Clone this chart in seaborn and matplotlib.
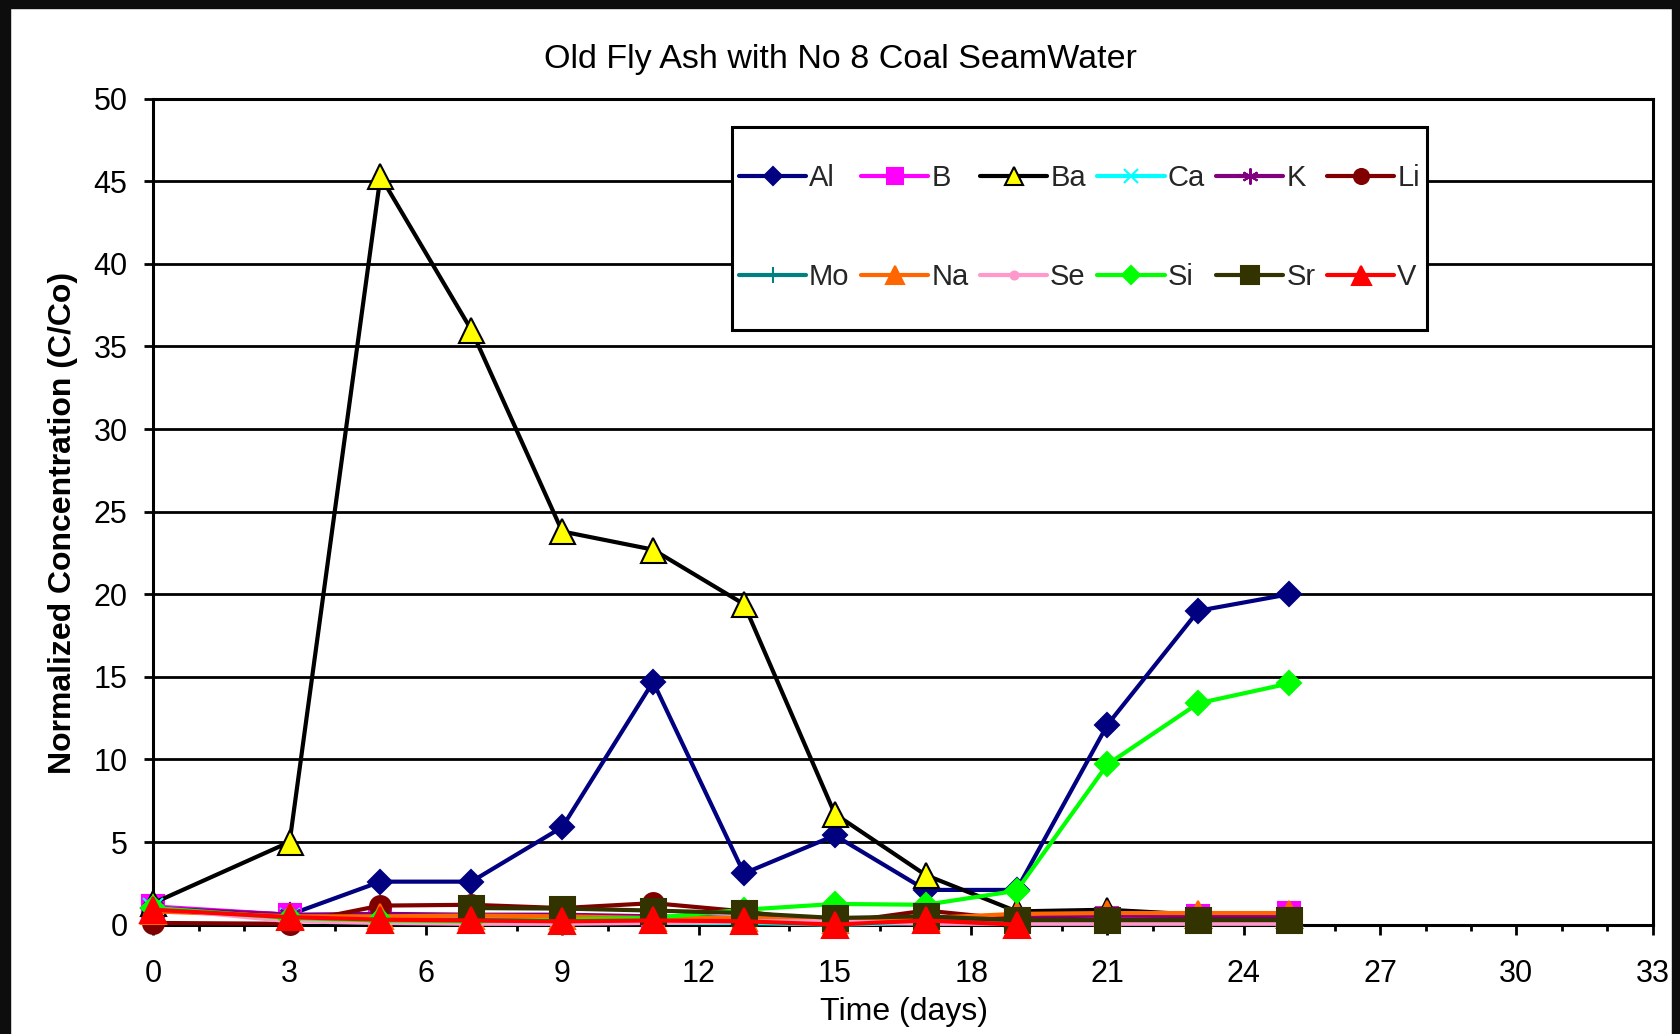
import numpy as np
import pandas as pd
import matplotlib
matplotlib.use("Agg")
import matplotlib.pyplot as plt
from matplotlib.ticker import MultipleLocator
from matplotlib.patches import Rectangle
import seaborn as sns

# ---------------- data ----------------
days = [0, 3, 5, 7, 9, 11, 13, 15, 17, 19, 21, 23, 25]
nan = np.nan
Al = [1.0, 0.6, 2.6, 2.6, 5.9, 14.7, 3.1, 5.4, 2.1, 2.1, 12.1, 19.0, 20.0]
B  = [1.1, 0.6, 0.3, 0.3, 0.2, 0.2, 0.2, 0.0, 0.2, 0.3, 0.4, 0.55, 0.7]
Ba = [1.3, 5.0, 45.3, 36.0, 23.8, 22.7, 19.4, 6.7, 3.0, 0.8, 0.9, 0.6, 0.6]
Ca = [1.0, 0.4, 0.2, 0.2, 0.1, 0.1, 0.1, 0.0, 0.1, 0.1, 0.1, 0.1, 0.1]
K  = [1.0, 0.6, 0.65, 0.6, 0.6, 0.5, 0.4, 0.3, 0.4, 0.4, 0.6, 0.5, 0.5]
Li = [0.1, 0.05, 1.15, 1.2, 1.0, 1.3, 0.8, 0.1, 0.85, 0.3, 0.3, 0.3, 0.3]
Mo = [1.0, 0.4, 0.3, 0.3, 0.3, 0.3, 0.3, 0.2, 0.2, 0.2, 0.2, 0.2, 0.2]
Na = [0.8, 0.5, 0.5, 0.55, 0.5, 0.4, 0.4, 0.3, 0.4, 0.65, 0.7, 0.7, 0.7]
Se = [1.0, 0.2, 0.1, 0.05, 0.05, 0.1, 0.2, 0.2, 0.05, 0.05, 0.05, 0.05, 0.05]
Si = [1.0, 0.4, 0.25, 0.2, 0.3, 0.4, 0.9, 1.25, 1.2, 2.05, 9.7, 13.4, 14.6]
Sr = [nan, nan, nan, 1.0, 0.97, 0.85, 0.7, 0.4, 0.5, 0.27, 0.27, 0.27, 0.27]
V  = [0.9, 0.45, 0.3, 0.25, 0.2, 0.25, 0.2, 0.0, 0.25, 0.0, nan, nan, nan]

elements = ["Al", "B", "Ba", "Ca", "K", "Li", "Mo", "Na", "Se", "Si", "Sr", "V"]
values = [Al, B, Ba, Ca, K, Li, Mo, Na, Se, Si, Sr, V]

x_ticks = list(range(0, 34, 3))
y_ticks = list(range(0, 51, 5))
title = "Old Fly Ash with No 8 Coal SeamWater"
xlabel = "Time (days)"
ylabel = "Normalized Concentration (C/Co)"

# ---------------- styles ----------------
styles = {
    "Al": dict(color="#000080", marker="D", ms=12.5, mfc="#000080", mec="#000080"),
    "B":  dict(color="#FF00FF", marker="s", ms=16, mfc="#FF00FF", mec="#FF00FF"),
    "Ba": dict(color="#000000", marker="^", ms=18, mfc="#FFFF00", mec="#000000"),
    "Ca": dict(color="#00FFFF", marker="x", ms=14, mfc="#00FFFF", mec="#00FFFF"),
    "K":  dict(color="#800080", marker=(6, 2, 0), ms=16, mfc="#800080", mec="#800080"),
    "Li": dict(color="#800000", marker="o", ms=15, mfc="#800000", mec="#800000"),
    "Mo": dict(color="#008080", marker="+", ms=16, mfc="#008080", mec="#008080"),
    "Na": dict(color="#FF6600", marker="^", ms=18, mfc="#FF6600", mec="#FF6600"),
    "Se": dict(color="#FF99CC", marker="o", ms=8, mfc="#FF99CC", mec="#FF99CC"),
    "Si": dict(color="#00FF00", marker="D", ms=12.5, mfc="#00FF00", mec="#00FF00"),
    "Sr": dict(color="#333300", marker="s", ms=18, mfc="#333300", mec="#333300"),
    "V":  dict(color="#FF0000", marker="^", ms=19, mfc="#FF0000", mec="#FF0000"),
}

sns.set_theme(style="white")
plt.rcParams["font.family"] = ["Liberation Sans", "DejaVu Sans"]

W, H = 1681, 1034
fig = plt.figure(figsize=(W / 100, H / 100), dpi=100)
fig.patch.set_facecolor("white")

ax_l, ax_r, ax_t, ax_b = 153.3, 1652.7, 98.7, 924.6
ax = fig.add_axes([ax_l / W, 1 - ax_b / H, (ax_r - ax_l) / W, (ax_b - ax_t) / H])
ax.set_facecolor("white")

for name, vals in zip(elements, values):
    st = styles[name]
    df = pd.DataFrame({"day": days, "val": vals}).dropna()
    sns.lineplot(data=df, x="day", y="val", ax=ax, color=st["color"],
                 marker=st["marker"], markersize=st["ms"],
                 markerfacecolor=st["mfc"], markeredgecolor=st["mec"],
                 markeredgewidth=1.5, linewidth=3.0, label=name,
                 clip_on=False, zorder=3)

ax.set_xlim(0, 33)
ax.set_ylim(0, 50)
ax.xaxis.set_major_locator(MultipleLocator(3))
ax.xaxis.set_minor_locator(MultipleLocator(1))
ax.yaxis.set_major_locator(MultipleLocator(5))
ax.set_xticks(x_ticks)
ax.set_yticks(y_ticks)
ax.set_xticklabels([str(t) for t in x_ticks])
ax.set_yticklabels([str(t) for t in y_ticks])

ax.grid(False)
ax.yaxis.grid(True, color="black", linewidth=2.0)
ax.set_axisbelow(True)
for sp in ax.spines.values():
    sp.set_visible(True)
    sp.set_color("black")
    sp.set_linewidth(2.2)

ax.tick_params(axis="y", which="major", direction="out", length=6.5, width=2,
               color="black", pad=12, labelsize=22, labelcolor="black", left=True)
ax.tick_params(axis="x", which="major", direction="out", length=7, width=2,
               color="black", pad=18, labelsize=22, labelcolor="black", bottom=True)
ax.tick_params(axis="x", which="minor", direction="out", length=4.5, width=2,
               color="black", bottom=True)

ax.set_xlabel(xlabel, fontsize=23, color="black")
ax.set_ylabel(ylabel, fontsize=23, fontweight="bold", color="black")
ax.xaxis.set_label_coords(0.501, -0.088)
ax.yaxis.set_label_coords(-0.050, 0.486)

t = ax.set_title(title, fontsize=24.5, color="black", pad=22)
t.set_x(0.458)

# legend: row 1 = Al B Ba Ca K Li, row 2 = Mo Na Se Si Sr V
handles, labels = ax.get_legend_handles_labels()
hmap = dict(zip(labels, handles))
order = ["Al", "Mo", "B", "Na", "Ba", "Se", "Ca", "Si", "K", "Sr", "Li", "V"]
leg_fs = 21
hh = 4.35
leg = ax.legend([hmap[k] for k in order], order, ncol=6, loc="upper left",
                bbox_to_anchor=(0.386, 0.966), borderaxespad=0, fontsize=leg_fs,
                handlelength=2.3, handletextpad=0.1, columnspacing=0.4,
                borderpad=0.24, handleheight=hh, labelspacing=0.33,
                markerscale=0.72, frameon=True, fancybox=False, framealpha=1,
                edgecolor="black", facecolor="white")
leg.get_frame().set_linewidth(2.2)
leg.set_zorder(5)
# put each legend line at the vertical centre of its label text
d = 0.35 * leg_fs * (hh - 0.7)
h_box = leg_fs * hh - d
shift = (h_box - d) / 2 - 0.36 * leg_fs
for lh in leg.legend_handles:
    lh.set_ydata(np.asarray(lh.get_ydata(), dtype=float) - shift)

# black frame around the picture (top, left, right)
fig.patches.append(Rectangle((0, 1 - 8 / H), 1, 8 / H, transform=fig.transFigure,
                             color="#0d0d0d", zorder=10))
fig.patches.append(Rectangle((0, 0), 10 / W, 1, transform=fig.transFigure,
                             color="#0d0d0d", zorder=10))
fig.patches.append(Rectangle((1 - 9 / W, 0), 9 / W, 1, transform=fig.transFigure,
                             color="#0d0d0d", zorder=10))

fig.savefig("out.png", dpi=100)
